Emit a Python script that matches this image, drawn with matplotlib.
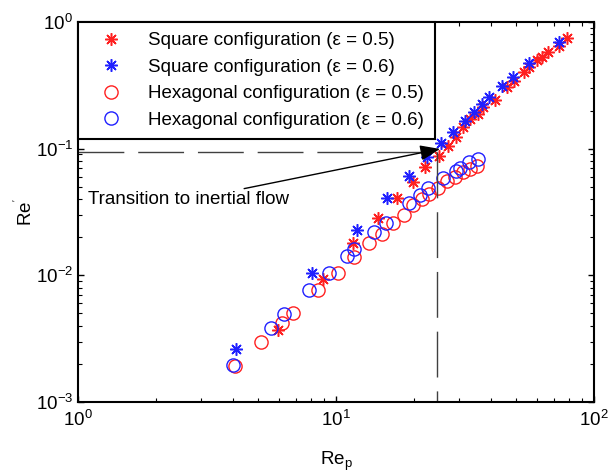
import matplotlib
matplotlib.use("Agg")
import matplotlib.pyplot as plt
from matplotlib.ticker import LogLocator, NullFormatter

plt.rcParams['font.family'] = ['Liberation Sans', 'DejaVu Sans']
plt.rcParams['mathtext.fontset'] = 'custom'
plt.rcParams['mathtext.rm'] = 'Liberation Sans'
plt.rcParams['mathtext.it'] = 'Liberation Sans:italic'
plt.rcParams['axes.unicode_minus'] = False

# ---- data ----
sq05_x = [5.96, 8.90, 11.64, 14.55, 17.24, 19.88, 22.13, 25.07, 27.18, 29.18, 31.06, 33.06,
          35.51, 37.13, 41.33, 46.0, 48.97, 53.55, 56.0, 60.1, 62.85, 66.3, 73.15, 78.6]
sq05_y = [0.00371, 0.00937, 0.0180, 0.0284, 0.0408, 0.0546, 0.0717, 0.0876, 0.105, 0.1237,
          0.1483, 0.1716, 0.1879, 0.2134, 0.2423, 0.3069, 0.3422, 0.4031, 0.4413, 0.5013,
          0.5293, 0.5797, 0.6465, 0.7473]

sq06_x = [4.10, 8.07, 12.06, 15.76, 19.19, 22.53, 25.53, 28.41, 31.62, 34.26, 36.80, 39.17,
          44.0, 48.53, 56.0, 73.15]
sq06_y = [0.00262, 0.01044, 0.0228, 0.0408, 0.0609, 0.0860, 0.1109, 0.1354, 0.1654, 0.1949,
          0.2253, 0.2559, 0.3125, 0.368, 0.4747, 0.6953]

hx05_x = [4.06, 5.12, 6.18, 6.81, 8.52, 10.18, 11.74, 13.43, 15.08, 16.64, 18.34, 19.88,
          21.54, 22.94, 24.85, 26.93, 28.92, 31.06, 33.06, 35.19]
hx05_y = [0.00193, 0.00298, 0.00421, 0.00505, 0.00767, 0.01044, 0.01397, 0.0180, 0.0212,
          0.0259, 0.0300, 0.0359, 0.0401, 0.0439, 0.0490, 0.0556, 0.0598, 0.0655, 0.0692,
          0.0730]

hx06_x = [3.99, 5.60, 6.29, 7.86, 9.40, 11.03, 11.74, 14.04, 15.62, 19.19, 21.17, 22.73,
          25.98, 29.18, 30.24, 32.77, 35.51]
hx06_y = [0.00196, 0.00384, 0.00496, 0.00767, 0.01044, 0.01422, 0.01616, 0.0220, 0.0259,
          0.0373, 0.0431, 0.0490, 0.0587, 0.0667, 0.0704, 0.0785, 0.0829]

labels = ["Square configuration (\u03b5 = 0.5)", "Square configuration (\u03b5 = 0.6)",
          "Hexagonal configuration (\u03b5 = 0.5)", "Hexagonal configuration (\u03b5 = 0.6)"]

transition_x = 24.6
transition_y = 0.094
arrow_tip = (25.3, 0.0995)
annot_text = "Transition to inertial flow"
annot_pos = (1.093, 0.0394)

FS = 13.5

# ---- figure ----
fig = plt.figure(figsize=(6.08, 4.74), dpi=100)
ax = fig.add_axes([78/608, 1-402/474, (594-78)/608, (402-22)/474])
ax.set_xscale('log')
ax.set_yscale('log')
ax.set_xlim(1, 100)
ax.set_ylim(1e-3, 1)

star = (8, 2, 0)
ax.plot(sq05_x, sq05_y, linestyle='none', marker=star, ms=9, mew=1.1, color='#ff2020',
        label=labels[0])
ax.plot(sq06_x, sq06_y, linestyle='none', marker=star, ms=9, mew=1.1, color='#2020ff',
        label=labels[1])
ax.plot(hx05_x, hx05_y, linestyle='none', marker='o', ms=9.5, mew=1.0, mfc='none',
        color='#ff2020', label=labels[2])
ax.plot(hx06_x, hx06_y, linestyle='none', marker='o', ms=9.5, mew=1.0, mfc='none',
        color='#2020ff', label=labels[3])

dash = (0, (33, 10))
ax.plot([1, transition_x], [transition_y, transition_y], color='0.25', lw=1.0, ls=dash)
ax.plot([transition_x, transition_x], [transition_y, 1e-3], color='0.25', lw=1.0, ls=dash)

ax.annotate(annot_text, xy=arrow_tip, xytext=annot_pos, ha='left', va='center',
            fontsize=FS,
            arrowprops=dict(arrowstyle='-|>,head_length=0.9,head_width=0.35', color='k',
                            lw=1.0, shrinkA=0, shrinkB=0))

ax.xaxis.set_minor_locator(LogLocator(base=10, subs=range(2, 10)))
ax.yaxis.set_minor_locator(LogLocator(base=10, subs=range(2, 10)))
ax.xaxis.set_minor_formatter(NullFormatter())
ax.yaxis.set_minor_formatter(NullFormatter())
ax.tick_params(which='both', direction='in', top=True, right=True, labelsize=FS)
ax.tick_params(which='major', length=4.5, width=1)
ax.tick_params(which='minor', length=2.8, width=0.8)
ax.tick_params(axis='x', which='major', pad=6)
for s in ax.spines.values():
    s.set_linewidth(1.5)

ax.set_xlabel(r"Re$_{\mathrm{p}}$", fontsize=FS, labelpad=14)
ax.set_ylabel(r"Re$^{\mathrm{'}}$", fontsize=FS, labelpad=0)

leg = ax.legend(loc='upper left', bbox_to_anchor=(0, 1), borderaxespad=0, fontsize=FS,
                frameon=True, fancybox=False, edgecolor='k', framealpha=1,
                handlelength=2.4, handletextpad=0.8, borderpad=0.55, labelspacing=0.5)
leg.get_frame().set_linewidth(1.5)

fig.savefig("out.png", dpi=100)
